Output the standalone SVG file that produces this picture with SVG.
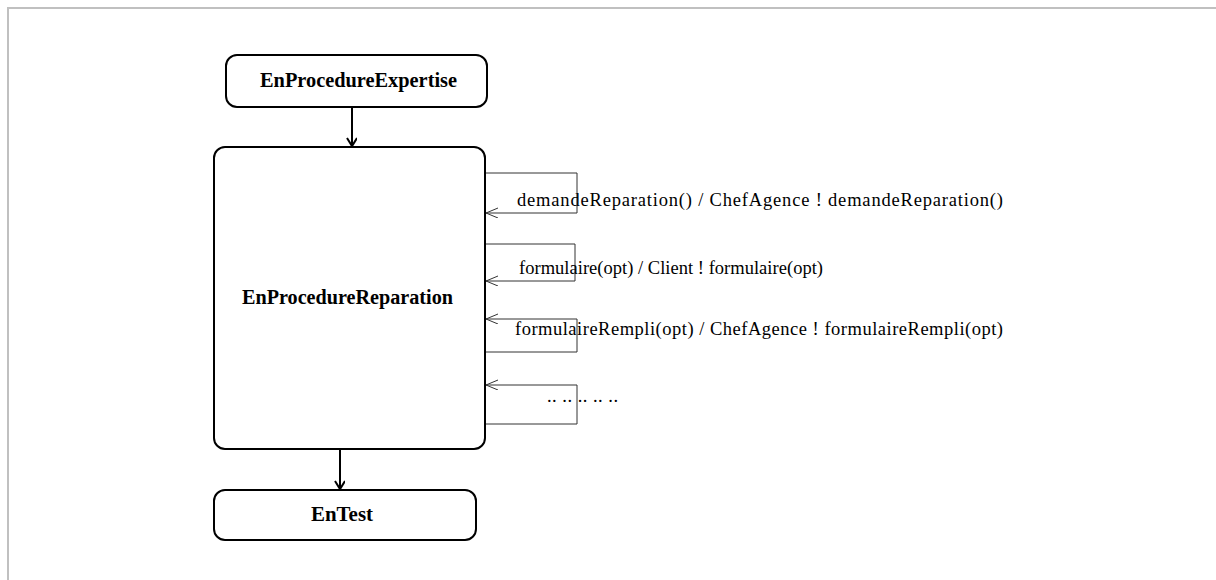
<svg xmlns="http://www.w3.org/2000/svg" width="1216" height="580" viewBox="0 0 1216 580">
<style>
.state{fill:#fff;stroke:#000;stroke-width:2}
.title{font-family:"Liberation Serif","Times New Roman",serif;font-weight:bold;font-size:20.3px;fill:#000}
.lbl{font-family:"Liberation Serif","Times New Roman",serif;font-size:18.5px;fill:#000}
.main{fill:none;stroke:#000;stroke-width:2}
.loop{fill:none;stroke:#333;stroke-width:1}
</style>
<defs>
<marker id="ah" markerWidth="12" markerHeight="12" refX="9" refY="5" orient="auto" markerUnits="userSpaceOnUse">
<path d="M1,0 L9,5 L1,10" fill="none" stroke="#000" stroke-width="2"/>
</marker>
<marker id="ahs" markerWidth="14" markerHeight="12" refX="12" refY="5" orient="auto" markerUnits="userSpaceOnUse">
<path d="M0,0 L12,5 L0,10" fill="none" stroke="#333" stroke-width="1"/>
</marker>
</defs>
<rect x="8" y="8" width="1220" height="580" fill="#fff" stroke="#c0c0c0" stroke-width="2"/>
<g id="EnProcedureExpertise">
<rect class="state" x="226" y="55" width="261" height="52" rx="11"/>
<text class="title" x="260" y="87" textLength="197" lengthAdjust="spacingAndGlyphs">EnProcedureExpertise</text>
</g>
<g id="EnProcedureReparation">
<rect class="state" x="214" y="147" width="271" height="302" rx="11"/>
<text class="title" x="242" y="304" textLength="211" lengthAdjust="spacingAndGlyphs">EnProcedureReparation</text>
</g>
<g id="EnTest">
<rect class="state" x="214" y="490" width="262" height="50" rx="11"/>
<text class="title" x="311" y="521" textLength="62" lengthAdjust="spacingAndGlyphs">EnTest</text>
</g>
<g id="connectors">
<line class="main" x1="352" y1="107" x2="352" y2="146" marker-end="url(#ah)"/>
<line class="main" x1="340" y1="449" x2="340" y2="489" marker-end="url(#ah)"/>
<path class="loop" d="M486,173 H577 V213 H486" marker-end="url(#ahs)"/>
<path class="loop" d="M486,244 H575 V281 H486" marker-end="url(#ahs)"/>
<path class="loop" d="M486,352 H577 V319 H486" marker-end="url(#ahs)"/>
<path class="loop" d="M486,424 H577 V385 H486" marker-end="url(#ahs)"/>
<text class="lbl" x="517" y="206" textLength="486" lengthAdjust="spacing">demandeReparation() / ChefAgence ! demandeReparation()</text>
<text class="lbl" x="519" y="274" textLength="304" lengthAdjust="spacing">formulaire(opt) / Client ! formulaire(opt)</text>
<text class="lbl" x="515" y="335" textLength="488" lengthAdjust="spacing">formulaireRempli(opt) / ChefAgence ! formulaireRempli(opt)</text>
<text class="lbl" x="547" y="402" textLength="71" lengthAdjust="spacing">.. .. .. .. ..</text>
</g>
</svg>
